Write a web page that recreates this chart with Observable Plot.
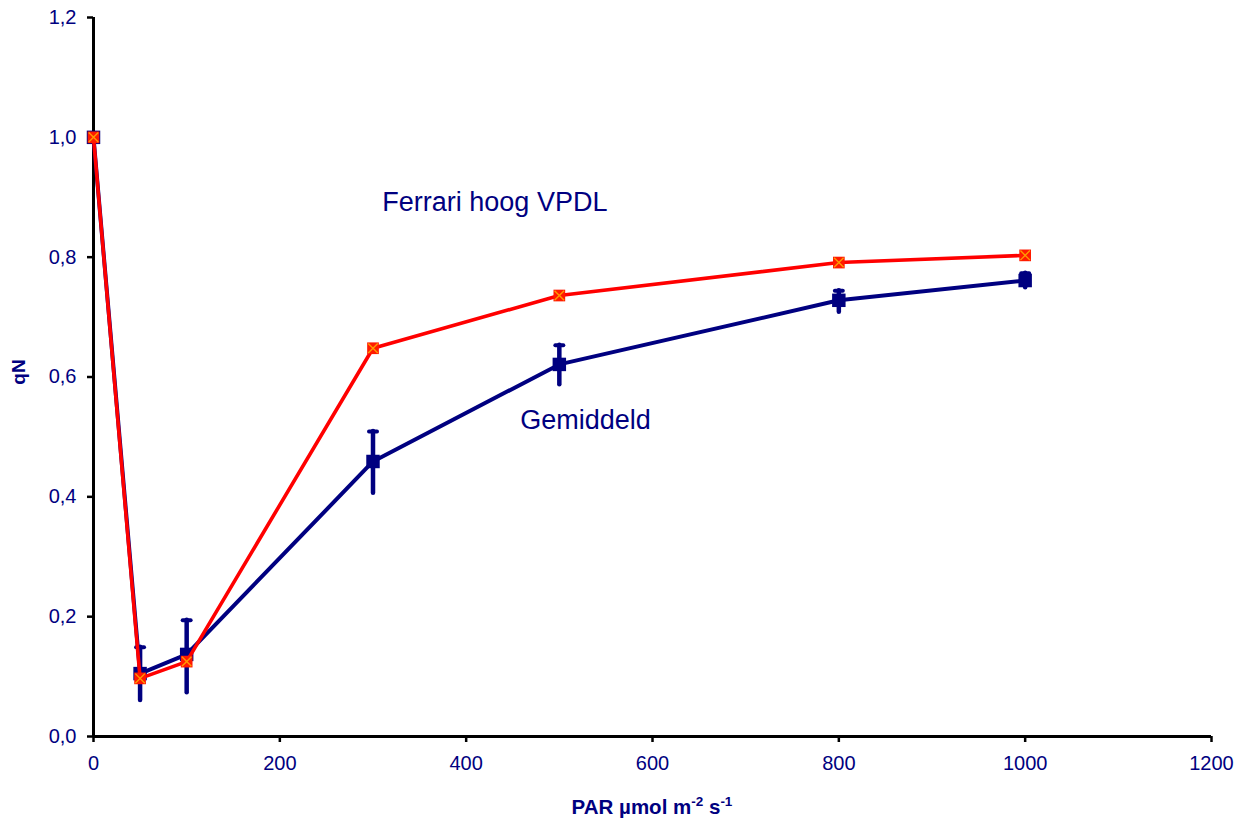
<!DOCTYPE html>
<html>
<head>
<meta charset="utf-8">
<script src="https://cdn.jsdelivr.net/npm/d3@7"></script>
<script src="https://cdn.jsdelivr.net/npm/@observablehq/plot@0.6"></script>
<style>
  html, body { margin: 0; padding: 0; background: white; }
  #chart { width: 1247px; height: 818px; }
</style>
</head>
<body>
<div id="chart"></div>
<script>
// Light intensity (PAR, µmol m-2 s-1)
const par = [0, 50, 100, 300, 500, 800, 1000];
// qN, mean over all plants, with error-bar limits
const gemiddeld = [1.0, 0.105, 0.137, 0.459, 0.621, 0.728, 0.761];
const gemiddeldHigh = [null, 0.149, 0.194, 0.509, 0.653, 0.744, 0.773];
const gemiddeldLow = [null, 0.060, 0.073, 0.406, 0.587, 0.708, 0.749];
// qN, Ferrari at high VPD
const ferrari = [1.0, 0.097, 0.125, 0.648, 0.736, 0.791, 0.803];

// Series annotations
const labelText = ["Ferrari hoog VPDL", "Gemiddeld"];
const labelX = [310, 458];
const labelY = [0.891, 0.527];

const xTicks = [0, 200, 400, 600, 800, 1000, 1200];
const yTicks = [0, 0.2, 0.4, 0.6, 0.8, 1.0, 1.2];

const navy = "#000080";
const red = "#ff0000";

const mean = par.map((x, i) => ({x, y: gemiddeld[i], hi: gemiddeldHigh[i], lo: gemiddeldLow[i]}));
const errs = mean.filter(d => d.hi != null);
const ferr = par.map((x, i) => ({x, y: ferrari[i]}));
const labels = labelText.map((text, i) => ({text, x: labelX[i], y: labelY[i]}));

// Horizontal cap drawn on top of each error bar
const capSymbol = {
  draw(context, size) {
    const w = Math.sqrt(size) / 2;
    context.moveTo(-w, 0);
    context.lineTo(w, 0);
  }
};

const comma = d => d3.format(".1f")(d).replace(".", ",");

const chart = Plot.plot({
  width: 1247,
  height: 818,
  marginLeft: 93,
  marginRight: 36,
  marginTop: 17,
  marginBottom: 82,
  style: {fontFamily: "'Liberation Sans', Arial, sans-serif", fontSize: "20px", background: "white", color: "black"},
  x: {domain: [0, 1200]},
  y: {domain: [0, 1.2]},
  marks: [
    Plot.axisX({ticks: xTicks, tickSize: 6, tickPadding: 13, stroke: "black", strokeWidth: 2.5, fill: navy, label: null, tickFormat: d3.format("d"), fontSize: 20}),
    Plot.axisY({ticks: yTicks, tickSize: 6, tickPadding: 11, stroke: "black", strokeWidth: 2.5, fill: navy, label: null, tickFormat: comma, fontSize: 20}),
    Plot.ruleX([0], {stroke: "black", strokeWidth: 3}),
    Plot.ruleY([0], {stroke: "black", strokeWidth: 3}),
    // mean series
    Plot.line(mean, {x: "x", y: "y", stroke: navy, strokeWidth: 4}),
    Plot.ruleX(errs, {x: "x", y1: "lo", y2: "hi", stroke: navy, strokeWidth: 4.5, strokeLinecap: "round"}),
    Plot.dot(errs, {x: "x", y: "hi", symbol: capSymbol, r: 4.5, fill: "none", stroke: navy, strokeWidth: 4, strokeLinecap: "round"}),
    Plot.dot(mean, {x: "x", y: "y", symbol: "square", r: 7.6, fill: navy, stroke: "none"}),
    // Ferrari series
    Plot.line(ferr, {x: "x", y: "y", stroke: red, strokeWidth: 3.6}),
    Plot.dot(ferr, {x: "x", y: "y", symbol: "square", r: 6.6, fill: "#ff1a00", stroke: "none"}),
    Plot.dot(ferr, {x: "x", y: "y", symbol: "times", r: 4.4, fill: "none", stroke: "#ff9900", strokeWidth: 1.4}),
    // series labels
    Plot.text(labels, {x: "x", y: "y", text: "text", textAnchor: "start", fontSize: 27, fill: navy})
  ]
});

const svg = d3.select(chart);

// x-axis title with superscripts
const xt = svg.append("text")
  .attr("x", 652)
  .attr("y", 814)
  .attr("text-anchor", "middle")
  .attr("fill", navy)
  .attr("font-weight", "bold")
  .attr("font-size", 20.5)
  .attr("font-family", "'Liberation Sans', Arial, sans-serif");
xt.append("tspan").text("PAR µmol m");
xt.append("tspan").attr("dy", -8).attr("font-size", 13.5).text("-2");
xt.append("tspan").attr("dy", 8).text(" s");
xt.append("tspan").attr("dy", -8).attr("font-size", 13.5).text("-1");

// y-axis title
svg.append("text")
  .attr("transform", "translate(25,372) rotate(-90)")
  .attr("text-anchor", "middle")
  .attr("fill", navy)
  .attr("font-weight", "bold")
  .attr("font-size", 19)
  .attr("font-family", "'Liberation Sans', Arial, sans-serif")
  .text("qN");

document.getElementById("chart").appendChild(chart);
</script>
</body>
</html>
